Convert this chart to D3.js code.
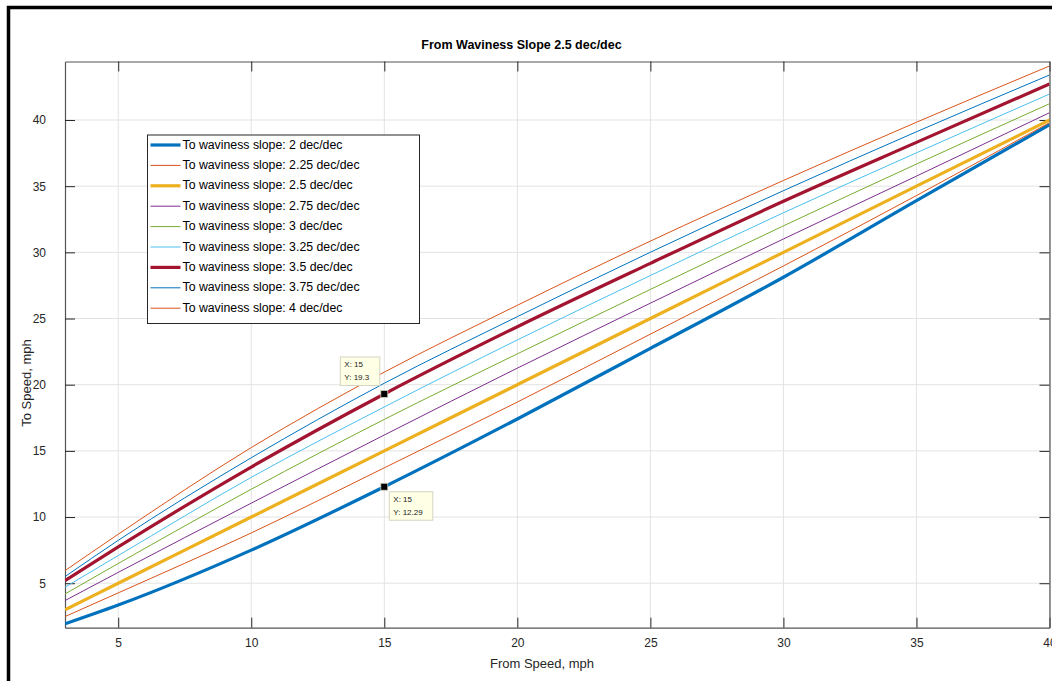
<!DOCTYPE html>
<html>
<head>
<meta charset="utf-8">
<script src="https://cdn.jsdelivr.net/npm/d3@7"></script>
<style>
  html, body { margin: 0; padding: 0; background: #fff; }
  svg { display: block; font-family: "Liberation Sans", Arial, Helvetica, sans-serif; }
</style>
</head>
<body>
<svg id="chart" width="1052" height="681"></svg>
<script>
// From-speed sample points (mph)
const fromSpeed = [3, 5, 10, 15, 20, 25, 30, 35, 40];

// Target waviness slopes (dec/dec)
const slopes = [2, 2.25, 2.5, 2.75, 3, 3.25, 3.5, 3.75, 4];

// Equivalent to-speed (mph) for each target slope, one row per slope
const toSpeed2    = [1.93, 3.35, 7.50, 12.29, 17.41, 22.74, 28.12, 33.90, 39.65];
const toSpeed225  = [2.48, 4.27, 8.80, 13.72, 18.69, 23.82, 28.97, 34.29, 39.80];
const toSpeed25   = [3.00, 5.00, 10.00, 15.00, 20.00, 25.00, 30.00, 35.00, 40.00];
const toSpeed275  = [3.69, 5.82, 11.05, 16.20, 21.25, 26.16, 31.01, 35.76, 40.55];
const toSpeed3    = [4.19, 6.49, 12.10, 17.38, 22.33, 27.20, 32.00, 36.67, 41.23];
const toSpeed325  = [4.70, 7.09, 13.00, 18.32, 23.38, 28.25, 32.99, 37.52, 41.96];
const toSpeed35   = [5.20, 7.74, 13.78, 19.30, 24.38, 29.17, 33.86, 38.31, 42.72];
const toSpeed375  = [5.50, 8.24, 14.48, 20.11, 25.14, 30.01, 34.66, 39.11, 43.40];
const toSpeed4    = [5.95, 8.70, 15.25, 20.95, 26.00, 30.85, 35.43, 39.83, 44.08];

const seriesValues = [toSpeed2, toSpeed225, toSpeed25, toSpeed275, toSpeed3,
                      toSpeed325, toSpeed35, toSpeed375, toSpeed4];

// Tick values
const xTicks = [5, 10, 15, 20, 25, 30, 35, 40];
const yTicks = [5, 10, 15, 20, 25, 30, 35, 40];

// Data tips: cursor position on a curve and its label lines
const dataTips = [
  { x: 15, y: 19.3, label: ["X: 15", "Y: 19.3"], above: true },
  { x: 15, y: 12.29, label: ["X: 15", "Y: 12.29"], above: false }
];

// Line colour order and widths (thick lines mark the highlighted slopes)
const colors = ["#0072BD", "#D95319", "#EDB120", "#7E2F8E", "#77AC30",
                "#4DBEEE", "#A2142F", "#0072BD", "#D95319"];
const widths = [3.2, 1, 3.2, 1, 1, 1, 3.2, 1, 1];

const svg = d3.select("#chart");

// Figure frame
svg.append("rect")
  .attr("x", 8.5).attr("y", 7.5)
  .attr("width", 1100).attr("height", 740)
  .attr("fill", "none").attr("stroke", "#000").attr("stroke-width", 3.5);

const plot = { left: 65, right: 1049.5, top: 61.5, bottom: 627.7 };

const x = d3.scaleLinear().domain([3, 40]).range([plot.left, plot.right]);
const y = d3.scaleLinear().domain([1.64, 44.42]).range([plot.bottom, plot.top]);

// Grid
const grid = svg.append("g");
grid.selectAll(".gx").data(xTicks).join("line")
  .attr("x1", d => x(d)).attr("x2", d => x(d))
  .attr("y1", plot.top).attr("y2", plot.bottom)
  .attr("stroke", "#e3e3e3").attr("stroke-width", 1);
grid.selectAll(".gy").data(yTicks).join("line")
  .attr("x1", plot.left).attr("x2", plot.right)
  .attr("y1", d => y(d)).attr("y2", d => y(d))
  .attr("stroke", "#e3e3e3").attr("stroke-width", 1);

// Axes with inward ticks on all four sides
const tickLen = 10;
const axisColor = "#262626";
const axB = d3.axisBottom(x).tickValues(xTicks).tickSizeInner(-tickLen).tickSizeOuter(0).tickPadding(tickLen + 1);
const axT = d3.axisTop(x).tickValues(xTicks).tickSizeInner(-tickLen).tickSizeOuter(0).tickFormat("");
const axL = d3.axisLeft(y).tickValues(yTicks).tickSizeInner(-tickLen).tickSizeOuter(0).tickPadding(tickLen + 9);
const axR = d3.axisRight(y).tickValues(yTicks).tickSizeInner(-tickLen).tickSizeOuter(0).tickFormat("");

function styleAxis(g) {
  g.selectAll("path").attr("stroke", "#555").attr("stroke-width", 1.2);
  g.selectAll("line").attr("stroke", axisColor).attr("stroke-width", 1);
  g.selectAll("text").attr("fill", axisColor).attr("font-size", 12)
    .attr("font-family", "'Liberation Sans', Arial, sans-serif");
}
svg.append("g").attr("transform", `translate(0,${plot.bottom})`).call(axB).call(styleAxis);
svg.append("g").attr("transform", `translate(0,${plot.top})`).call(axT).call(styleAxis);
svg.append("g").attr("transform", `translate(${plot.left},0)`).call(axL).call(styleAxis);
svg.append("g").attr("transform", `translate(${plot.right},0)`).call(axR).call(styleAxis);

// Curves
const line = d3.line()
  .x(d => x(d[0])).y(d => y(d[1]))
  .curve(d3.curveMonotoneX);

const clipId = "plotClip";
svg.append("clipPath").attr("id", clipId).append("rect")
  .attr("x", plot.left).attr("y", plot.top)
  .attr("width", plot.right - plot.left).attr("height", plot.bottom - plot.top);

const curves = svg.append("g").attr("clip-path", `url(#${clipId})`);
seriesValues.forEach((vals, i) => {
  curves.append("path")
    .datum(fromSpeed.map((f, j) => [f, vals[j]]))
    .attr("d", line)
    .attr("fill", "none")
    .attr("stroke", colors[i])
    .attr("stroke-width", widths[i])
    .attr("stroke-linejoin", "round");
});

// Legend
const legend = svg.append("g");
legend.append("rect")
  .attr("x", 147.5).attr("y", 135).attr("width", 272).attr("height", 188.5)
  .attr("fill", "#fff").attr("stroke", "#262626").attr("stroke-width", 1);
slopes.forEach((s, i) => {
  const cy = 145 + i * 20.4;
  legend.append("line")
    .attr("x1", 150.5).attr("x2", 180.5).attr("y1", cy).attr("y2", cy)
    .attr("stroke", colors[i]).attr("stroke-width", widths[i]);
  legend.append("text")
    .attr("x", 182.5).attr("y", cy).attr("dy", "0.3em")
    .attr("font-size", 12.3).attr("fill", "#000")
    .text(`To waviness slope: ${s} dec/dec`);
});

// Data tips
dataTips.forEach(t => {
  const px = x(t.x), py = y(t.y);
  const w = t.above ? 39.5 : 43.5, h = 28.5;
  const bx = t.above ? px - 44 : px + 5;
  const by = t.above ? py - 37 : py + 5;
  svg.append("rect")
    .attr("x", bx).attr("y", by).attr("width", w).attr("height", h)
    .attr("fill", "#ffffe6").attr("stroke", "#d5d5c0").attr("stroke-width", 1);
  t.label.forEach((s, k) => {
    svg.append("text")
      .attr("x", bx + 4).attr("y", by + 10 + k * 13)
      .attr("font-size", 8).attr("fill", "#1a1a1a")
      .text(s);
  });
  svg.append("rect")
    .attr("x", px - 3.5).attr("y", py - 3.5).attr("width", 7).attr("height", 7)
    .attr("fill", "#000").attr("stroke", "#d8d8c0").attr("stroke-width", 0.8);
});

// Title and axis labels
svg.append("text")
  .attr("x", 521.5).attr("y", 49)
  .attr("text-anchor", "middle").attr("font-size", 12.5).attr("font-weight", "bold")
  .attr("fill", "#000")
  .text("From Waviness Slope 2.5 dec/dec");

svg.append("text")
  .attr("x", 542).attr("y", 668)
  .attr("text-anchor", "middle").attr("font-size", 13).attr("fill", "#262626")
  .text("From Speed, mph");

svg.append("text")
  .attr("transform", "translate(31,383) rotate(-90)")
  .attr("text-anchor", "middle").attr("font-size", 13).attr("fill", "#262626")
  .text("To Speed, mph");
</script>
</body>
</html>
